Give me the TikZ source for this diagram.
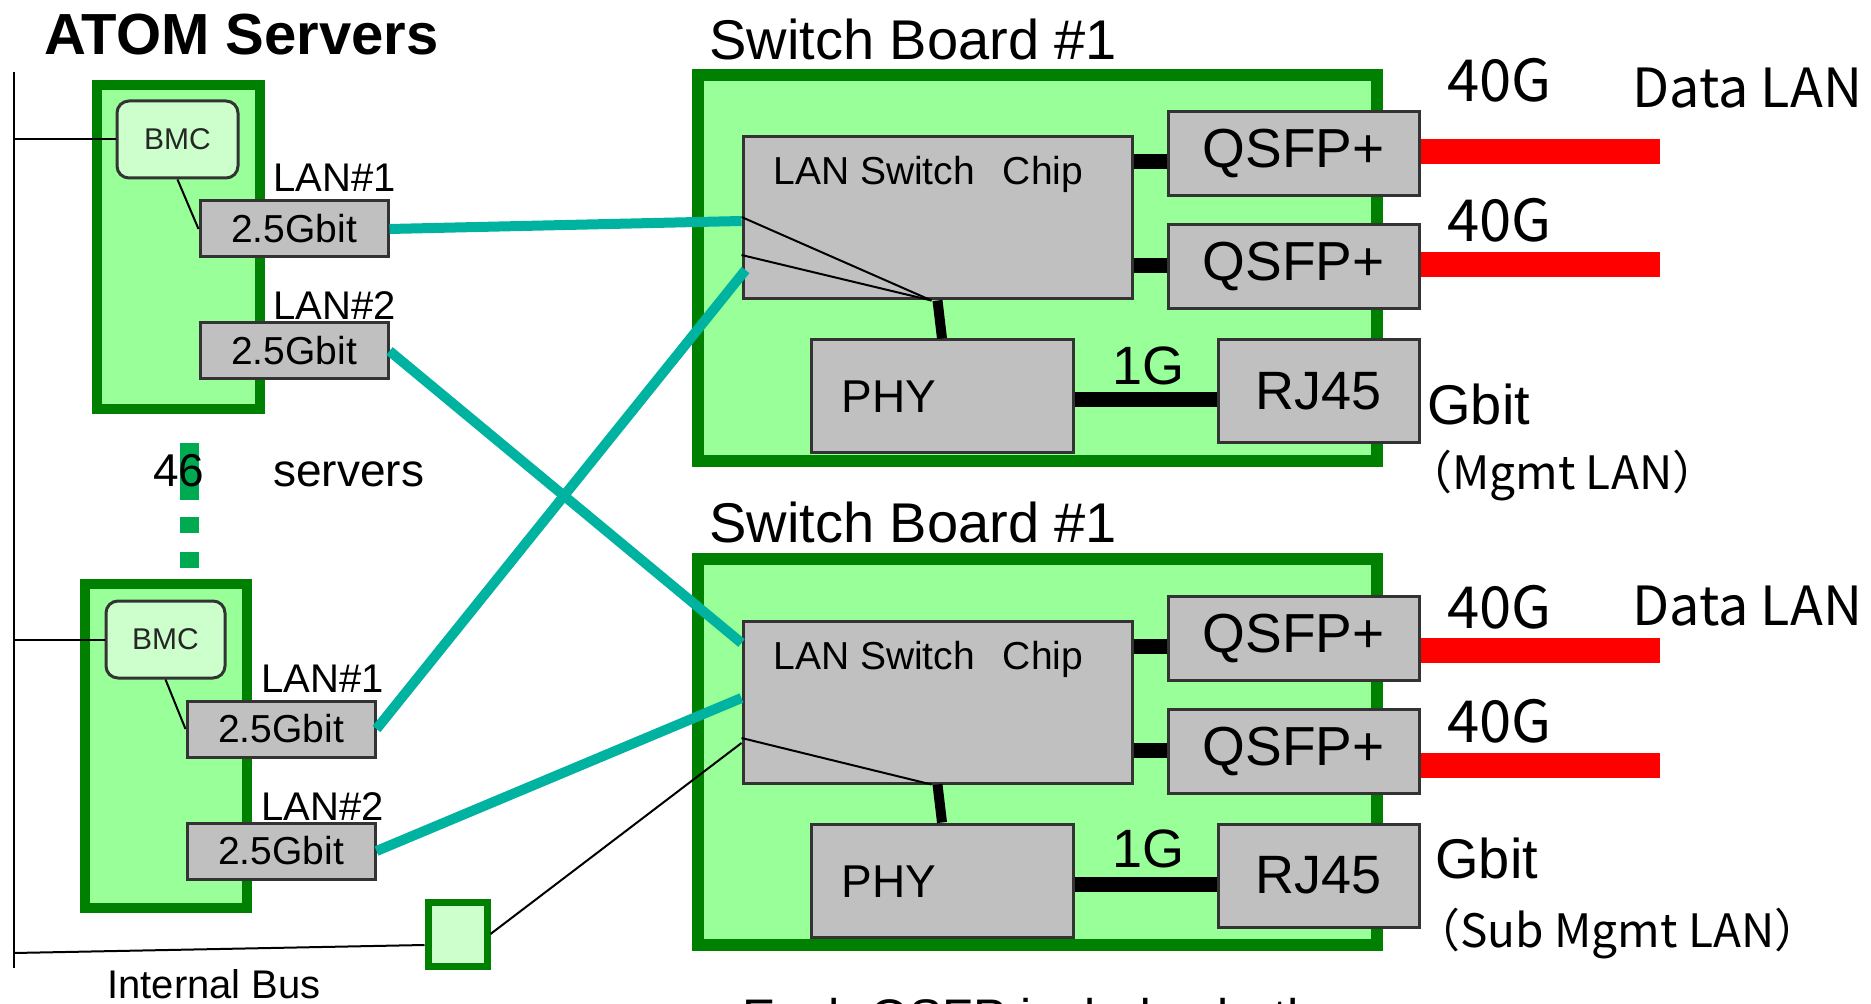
\documentclass[tikz,border=0pt]{standalone}
\usepackage{fontspec}
\setmainfont{Liberation Sans}
\newfontfamily\jp{Noto Sans CJK JP}
\usetikzlibrary{fit}
\definecolor{bgreen}{RGB}{153,255,153}
\definecolor{dgreen}{RGB}{0,128,0}
\definecolor{lgreen}{RGB}{204,255,204}
\definecolor{chipgray}{RGB}{192,192,192}
\definecolor{tealc}{RGB}{0,178,160}
\definecolor{dotgreen}{RGB}{0,170,80}
\newcommand\fsz[1]{\fontsize{#1}{#1}\selectfont}
\begin{document}
\begin{tikzpicture}[x=0.5pt,y=-0.5pt,
  board/.style={draw=dgreen, fill=bgreen, line width=6pt, inner sep=0pt},
  server/.style={draw=dgreen, fill=bgreen, line width=5pt, inner sep=0pt},
  gbox/.style={draw=black!80, fill=chipgray, line width=1.5pt, inner sep=0pt},
  bmcbox/.style={draw=black!80, fill=lgreen, line width=1.5pt, rounded corners=6pt, inner sep=0pt},
  sqbox/.style={draw=dgreen, fill=lgreen, line width=3.5pt, inner sep=0pt},
  tealline/.style={draw=tealc, line width=5pt},
  thinline/.style={draw=black, line width=1pt},
  thickline/.style={draw=black, line width=7.5pt},
  redline/.style={draw=red, line width=12.5pt},
  lbl/.style={anchor=base west, inner sep=0pt},
  ctext/.style={anchor=center, inner sep=0pt},
  bmct/.style={ctext, font=\fsz{15}, text=black!85},
  gbitt/.style={ctext, font=\fsz{19.5}},
  qsfpt/.style={ctext, font=\fsz{27.5}},
  rjt/.style={ctext, font=\fsz{27}}
]
\useasboundingbox (0,0) rectangle (1871,1004);

% ---- switch boards ----
\node[board, fit={(698,75) (1377,461)}] (board1) {};
\node[board, fit={(698,559) (1377,945)}] (board2) {};

% ---- servers ----
\node[server, fit={(97,85) (260,409)}] (srv1) {};
\node[server, fit={(85,584) (247,908)}] (srv2) {};

\node[bmcbox, fit={(117,101) (238,178)}] (bmc1) {};
\node[bmcbox, fit={(106,601) (225,678)}] (bmc2) {};
\node[bmct] (bmc1t) at (bmc1.center) {BMC};
\node[bmct] (bmc2t) at (bmc2.center) {BMC};

\node[gbox, fit={(200,201) (388,257)}] (a1) {};
\node[gbox, fit={(200,323) (388,379)}] (a2) {};
\node[gbox, fit={(187,701) (375,757)}] (b1) {};
\node[gbox, fit={(187,823) (375,879)}] (b2) {};
\node[gbitt] (a1t) at (a1.center) {2.5Gbit};
\node[gbitt] (a2t) at (a2.center) {2.5Gbit};
\node[gbitt] (b1t) at (b1.center) {2.5Gbit};
\node[gbitt] (b2t) at (b2.center) {2.5Gbit};

\node[sqbox, fit={(428,902) (487,966)}] (sq) {};

% ---- board contents ----
\node[gbox, fit={(743,137) (1132,299)}] (chip1) {};
\node[gbox, fit={(1168,112) (1419,196)}] (q1) {};
\node[gbox, fit={(1168,225) (1419,309)}] (q2) {};
\node[gbox, fit={(811,340) (1073,453)}] (phy1) {};
\node[gbox, fit={(1218,340) (1419,443)}] (rj1) {};

\node[gbox, fit={(743,621) (1132,783)}] (chip2) {};
\node[gbox, fit={(1168,596) (1419,680)}] (q3) {};
\node[gbox, fit={(1168,709) (1419,793)}] (q4) {};
\node[gbox, fit={(811,824) (1073,937)}] (phy2) {};
\node[gbox, fit={(1218,824) (1419,927)}] (rj2) {};

\node[qsfpt] (q1t) at (q1.center) {QSFP+};
\node[qsfpt] (q2t) at (q2.center) {QSFP+};
\node[qsfpt] (q3t) at (q3.center) {QSFP+};
\node[qsfpt] (q4t) at (q4.center) {QSFP+};
\node[rjt] (rj1t) at (rj1.center) {RJ45};
\node[rjt] (rj2t) at (rj2.center) {RJ45};

\node[lbl, font=\fsz{19.5}] (chip1t) at (773,185) {LAN Switch\hspace{14pt}Chip};
\node[lbl, font=\fsz{19.5}] (chip2t) at (773,669) {LAN Switch\hspace{14pt}Chip};
\node[lbl, font=\fsz{23}] (phy1t) at (841,413) {PHY};
\node[lbl, font=\fsz{23}] (phy2t) at (841,897) {PHY};

% ---- thick black connectors ----
\draw[thickline] (chip1.east |- 0,162) -- (q1.west |- 0,162);
\draw[thickline] (chip1.east |- 0,266) -- (q2.west |- 0,266);
\draw[thickline] (chip2.east |- 0,646) -- (q3.west |- 0,646);
\draw[thickline] (chip2.east |- 0,750) -- (q4.west |- 0,750);
\draw[thickline] (phy1.east |- 0,400) -- (rj1.west |- 0,400);
\draw[thickline] (phy2.east |- 0,884) -- (rj2.west |- 0,884);
\draw[line width=5pt] (chip1.south) -- (phy1.north);
\draw[line width=5pt] (chip2.south) -- (phy2.north);

% ---- thin lines inside chips ----
\draw[thinline] (chip1.west |- 0,217) -- ([xshift=-3pt]chip1.south);
\draw[thinline] (chip1.west |- 0,255) -- ([xshift=-3pt]chip1.south);
\draw[thinline] (chip2.west |- 0,738) -- ([xshift=-3pt]chip2.south);

% ---- bus ----
\coordinate (busT) at (14,72);
\coordinate (busB) at (14,968);
\coordinate (busI) at (14,953);
\draw[thinline] (busT) -- (busB);
\draw[thinline] (bmc1.west) -- (bmc1.west -| busT);
\draw[thinline] (bmc2.west) -- (bmc2.west -| busT);
\draw[thinline] (busI) -- (sq.west |- 0,945);
\draw[thinline] (sq.east) -- (chip2.west |- 0,743);
\draw[thinline] (bmc1.south) -- (a1.west);
\draw[thinline] (bmc2.south) -- (b1.west);

% ---- teal LAN cables ----
\draw[tealline] (a1.east) -- (chip1.west |- 0,221);
\draw[tealline] (a2.east) -- (chip2.west |- 0,643);
\draw[tealline] (b1.east) -- ([xshift=2pt]chip1.west |- 0,270);
\draw[tealline] (b2.east) -- (chip2.west |- 0,698);

% ---- red 40G lines ----
\coordinate (r1) at (1660,152);
\coordinate (r2) at (1660,265);
\coordinate (r3) at (1660,650);
\coordinate (r4) at (1660,765);
\draw[redline] (q1.east |- r1) -- (r1);
\draw[redline] (q2.east |- r2) -- (r2);
\draw[redline] (q3.east |- r3) -- (r3);
\draw[redline] (q4.east |- r4) -- (r4);

% ---- dots between servers ----
\fill[dotgreen] (180,443) rectangle (199,500);
\fill[dotgreen] (180,517) rectangle (199,533);
\fill[dotgreen] (180,552) rectangle (199,568);

% ---- labels ----
\node[lbl, font=\bfseries\fsz{29}] (atom) at (44,55) {ATOM Servers};
\node[lbl, font=\fsz{28}] (sb1) at (709,60) {Switch Board \#1};
\node[lbl, font=\fsz{28}] (sb2) at (709,543) {Switch Board \#1};
\node[lbl, font=\fsz{20}] (l11) at (273,192) {LAN\#1};
\node[lbl, font=\fsz{20}] (l12) at (273,320) {LAN\#2};
\node[lbl, font=\fsz{20}] (l21) at (261,692) {LAN\#1};
\node[lbl, font=\fsz{20}] (l22) at (261,820) {LAN\#2};
\node[lbl, font=\fsz{23}] (n46) at (153,487) {46};
\node[lbl, font=\fsz{23}] (nsrv) at (273,487) {servers};
\node[lbl, font=\fsz{20}] (ibus) at (107,998) {Internal Bus};
\node[lbl, font=\fsz{27}] (g1a) at (1112,385) {1G};
\node[lbl, font=\fsz{27}] (g1b) at (1112,867) {1G};
\node[lbl, font=\jp\fsz{29}] (f1) at (1447,102) {40G};
\node[lbl, font=\jp\fsz{29}] (f2) at (1447,242) {40G};
\node[lbl, font=\jp\fsz{29}] (f3) at (1447,628) {40G};
\node[lbl, font=\jp\fsz{29}] (f4) at (1447,742) {40G};
\node[lbl, font=\jp\fsz{27}] (d1) at (1632,108) {Data LAN};
\node[lbl, font=\jp\fsz{27}] (d2) at (1632,625) {Data LAN};
\node[lbl, font=\fsz{28}] (gb1) at (1427,425) {Gbit};
\node[lbl, font=\fsz{28}] (gb2) at (1435,878) {Gbit};
\node[lbl, font=\jp\fsz{23}] (m1) at (1406,490) {（Mgmt LAN）};
\node[lbl, font=\jp\fsz{23}] (m2) at (1414,947) {（Sub Mgmt LAN）};
\node[lbl, font=\fsz{25}] (note) at (742,1034) {Each QSFP includes both};
\end{tikzpicture}
\end{document}
